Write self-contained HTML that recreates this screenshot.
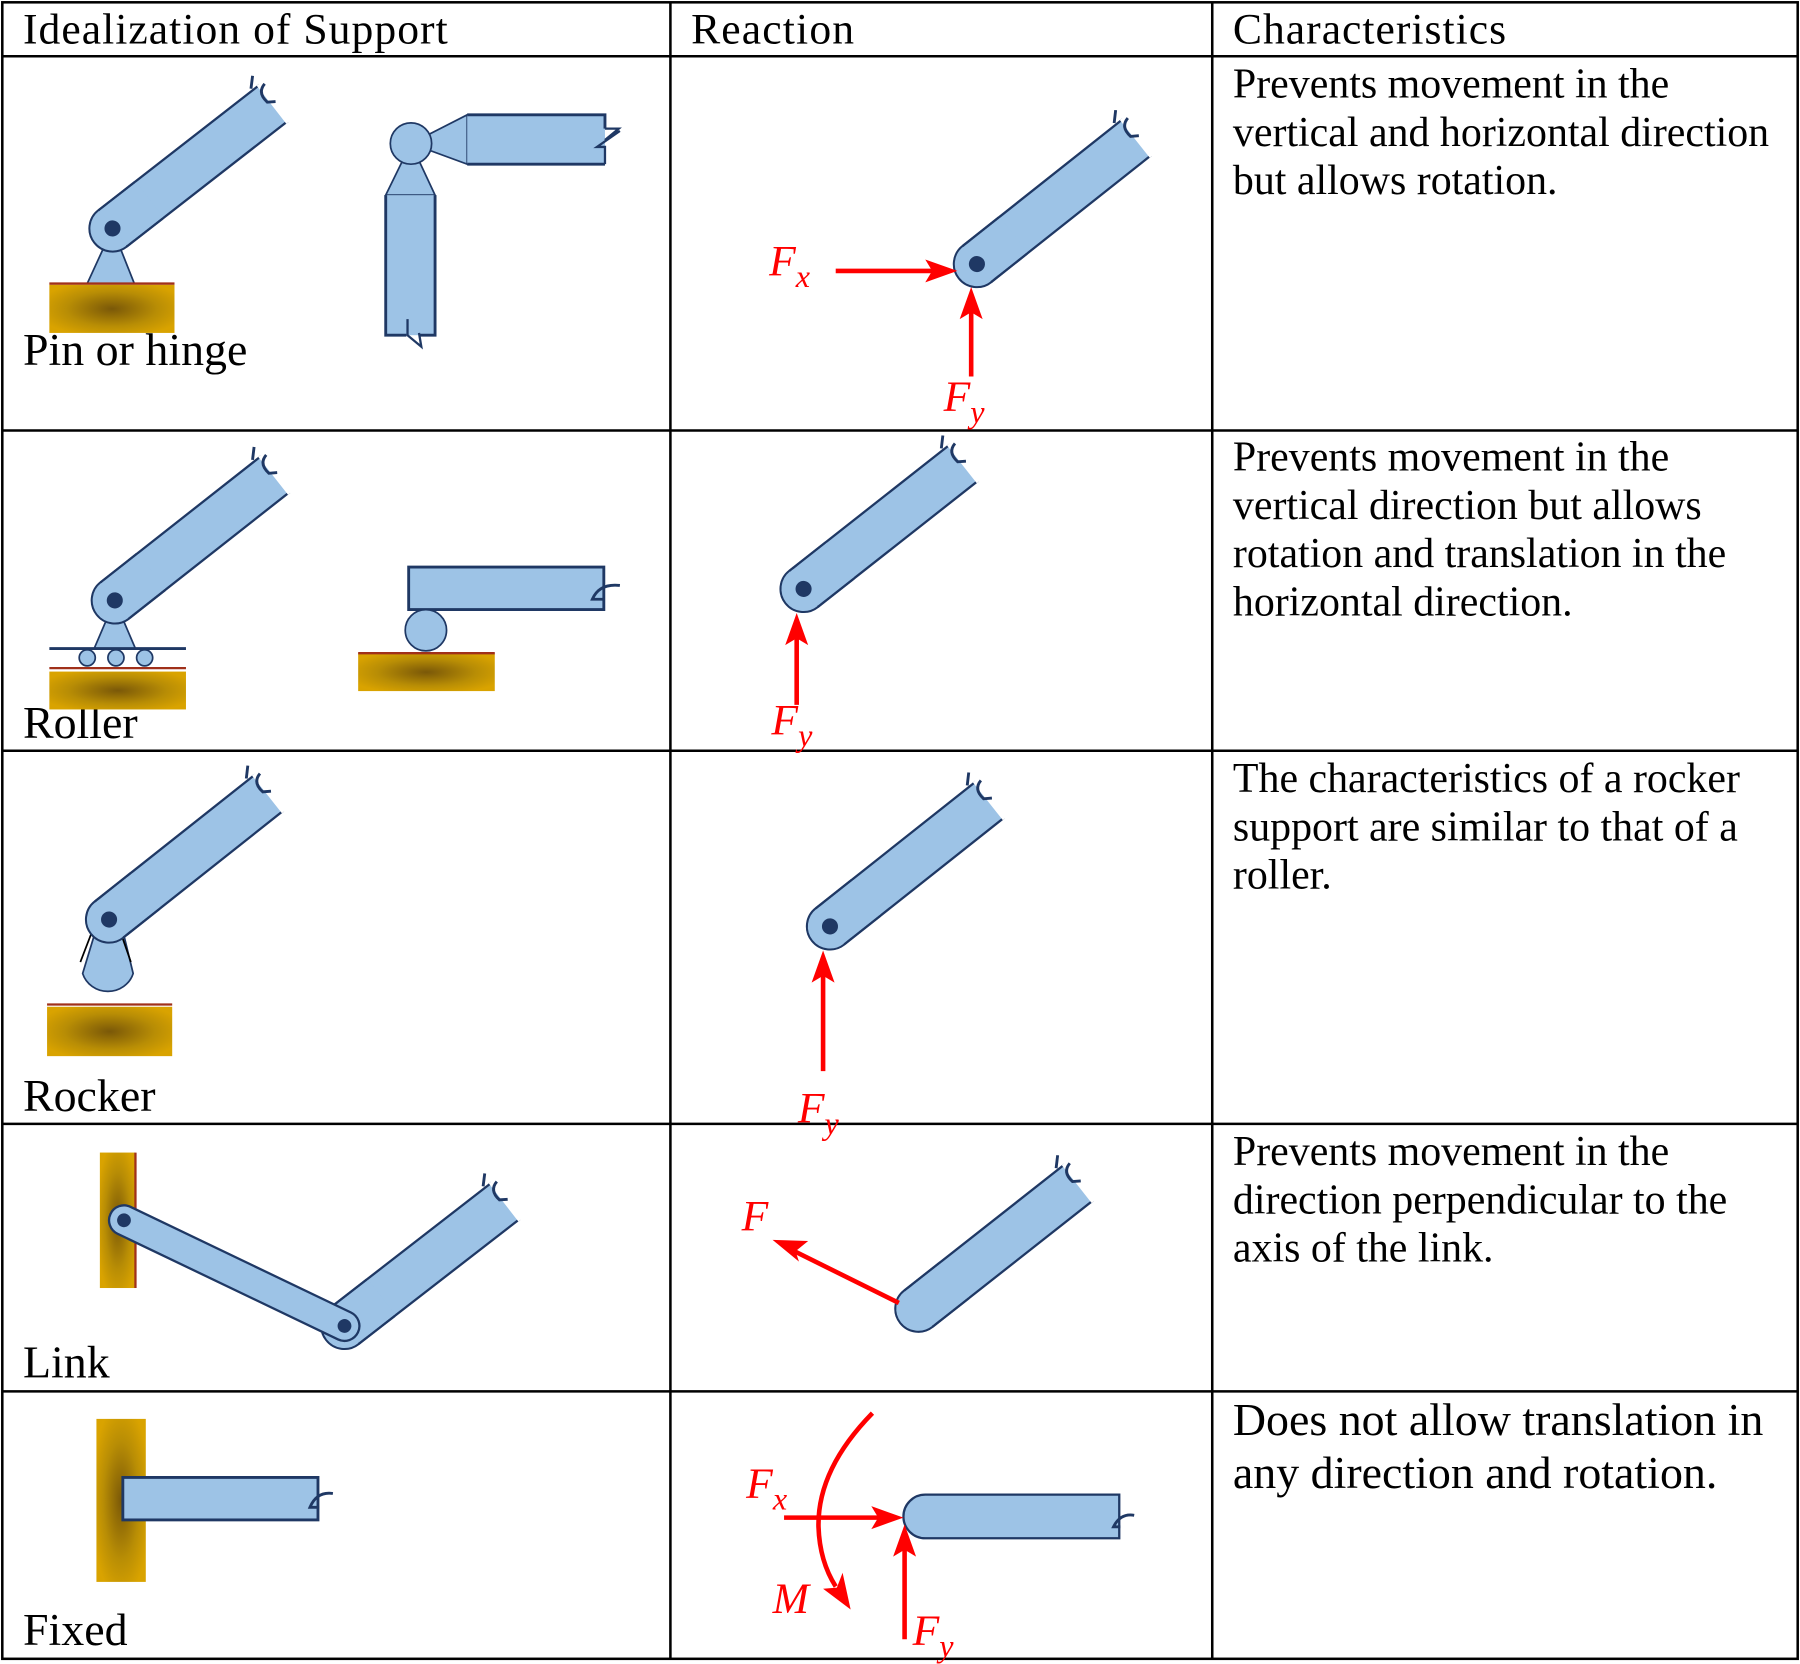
<!DOCTYPE html>
<html><head><meta charset="utf-8"><style>html,body{margin:0;padding:0;background:#fff}svg{display:block}</style></head>
<body>
<svg width="1800" height="1664" viewBox="0 0 1568 1449.5" xmlns="http://www.w3.org/2000/svg" font-family="Liberation Serif, serif">
<defs>
<radialGradient id="g" cx="50%" cy="50%" r="60%"><stop offset="0" stop-color="#7a5808"/><stop offset="0.6" stop-color="#b88d05"/><stop offset="1" stop-color="#d9a300"/></radialGradient>
<g id="beam">
<path d="M0,-20 H177 V20 H0 A20,20 0 0 1 0,-20 Z" fill="#9dc3e6" stroke="#1f3864" stroke-width="2"/>
<path d="M177,-21 V21" stroke="#fff" stroke-width="3"/>
<path d="M170,-22 l8,-8 M182,-18 q-10,2 -8,14 l6,4" fill="none" stroke="#1f3864" stroke-width="2.5"/>
<circle r="20" fill="#9dc3e6" stroke="#1f3864" stroke-width="1.5"/>
<path d="M0,-20 H40 M0,20 H40" stroke="#1f3864" stroke-width="2"/>
<rect x="1" y="-19" width="40" height="38" fill="#9dc3e6"/>
</g>
<g id="pin"><circle r="7" fill="#1f3864"/></g>
</defs>
<g stroke="#000" stroke-width="2.2">
<rect x="2" y="2" width="1564" height="1443" fill="none"/>
<line x1="584" y1="2" x2="584" y2="1445"/><line x1="1056" y1="2" x2="1056" y2="1445"/>
<line x1="2" y1="49" x2="1566" y2="49"/><line x1="2" y1="375" x2="1566" y2="375"/><line x1="2" y1="654" x2="1566" y2="654"/><line x1="2" y1="979" x2="1566" y2="979"/><line x1="2" y1="1212" x2="1566" y2="1212"/>
</g>
<g font-size="38" fill="#000">
<text x="20" y="38" textLength="370">Idealization of Support</text>
<text x="602" y="38" textLength="142">Reaction</text>
<text x="1074" y="38" textLength="238">Characteristics</text>
<text x="20" y="318" font-size="40">Pin or hinge</text>
<text x="20" y="643" font-size="40">Roller</text>
<text x="20" y="968" font-size="40">Rocker</text>
<text x="20" y="1200" font-size="40">Link</text>
<text x="20" y="1433" font-size="40">Fixed</text>
</g>
<g font-size="36.5" fill="#000">
<text x="1074" y="85">Prevents movement in the</text>
<text x="1074" y="127">vertical and horizontal direction</text>
<text x="1074" y="169">but allows rotation.</text>
<text x="1074" y="410">Prevents movement in the</text>
<text x="1074" y="452">vertical direction but allows</text>
<text x="1074" y="494">rotation and translation in the</text>
<text x="1074" y="536">horizontal direction.</text>
<text x="1074" y="690">The characteristics of a rocker</text>
<text x="1074" y="732">support are similar to that of a</text>
<text x="1074" y="774">roller.</text>
<text x="1074" y="1015">Prevents movement in the</text>
<text x="1074" y="1057">direction perpendicular to the</text>
<text x="1074" y="1099">axis of the link.</text>
<text x="1074" y="1250" font-size="40">Does not allow translation in</text>
<text x="1074" y="1296" font-size="40">any direction and rotation.</text>
</g>
<!-- Row1 pin -->
<polygon points="98,199 76,247 117,247" fill="#9dc3e6" stroke="#1f3864" stroke-width="1.5"/>
<rect x="43" y="248" width="109" height="42" fill="url(#g)"/>
<line x1="43" y1="247" x2="152" y2="247" stroke="#a0301a" stroke-width="2"/>
<g transform="translate(98,199) rotate(-37.9)"><use href="#beam"/><use href="#pin"/></g>
<!-- hinge -->
<polygon points="358,125 407,100 407,143" fill="#9dc3e6" stroke="#1f3864" stroke-width="1.5"/>
<rect x="407" y="100" width="120" height="43" fill="#9dc3e6"/>
<path d="M407,100 H527 V112 M527,143 H407" fill="none" stroke="#1f3864" stroke-width="2.5"/>
<path d="M527,112 h12 l-12,10 M540,114 l-20,14 h7 V143" fill="none" stroke="#1f3864" stroke-width="2"/>
<polygon points="358,125 336,170 379,170" fill="#9dc3e6" stroke="#1f3864" stroke-width="1.5"/>
<rect x="336" y="170" width="43" height="122" fill="#9dc3e6"/>
<path d="M336,170 V292 H354 M379,170 V292 H366" fill="none" stroke="#1f3864" stroke-width="2.5"/>
<path d="M355,278 V292 l12,10 l-2,-12" fill="none" stroke="#1f3864" stroke-width="2"/>
<circle cx="358" cy="125" r="18" fill="#9dc3e6" stroke="#1f3864" stroke-width="1.5"/>
<!-- reaction 1 -->
<g transform="translate(851,230) rotate(-38.4)"><use href="#beam"/><use href="#pin"/></g>
<g stroke="#f00" stroke-width="4" fill="#f00">
<line x1="728" y1="236" x2="820" y2="236"/><polygon points="834,236 806,226 812,236 806,246" stroke="none"/>
<line x1="846" y1="328" x2="846" y2="264"/><polygon points="846,250 836,278 846,272 856,278" stroke="none"/>
</g>
<g font-style="italic" fill="#f00" font-size="38">
<text x="670" y="240">F<tspan font-size="28" dy="10">x</tspan></text>
<text x="822" y="358">F<tspan font-size="28" dy="10">y</tspan></text>
<text x="672" y="640">F<tspan font-size="28" dy="10">y</tspan></text>
<text x="695" y="978">F<tspan font-size="28" dy="10">y</tspan></text>
<text x="646" y="1072">F</text>
<text x="650" y="1305">F<tspan font-size="28" dy="10">x</tspan></text>
<text x="795" y="1433">F<tspan font-size="28" dy="10">y</tspan></text>
<text x="673" y="1405">M</text>
</g>
<!-- Row2 roller -->
<polygon points="100,523 82,565 118,565" fill="#9dc3e6" stroke="#1f3864" stroke-width="1.5"/>
<line x1="43" y1="565" x2="162" y2="565" stroke="#1f3864" stroke-width="2.5"/>
<g fill="#9dc3e6" stroke="#1f3864" stroke-width="1.5"><circle cx="76" cy="573" r="7"/><circle cx="101" cy="573" r="7"/><circle cx="126" cy="573" r="7"/></g>
<line x1="43" y1="582" x2="162" y2="582" stroke="#a0301a" stroke-width="2"/>
<rect x="43" y="585" width="119" height="33" fill="url(#g)"/>
<g transform="translate(100,523) rotate(-38.2)"><use href="#beam"/><use href="#pin"/></g>
<rect x="356" y="494" width="170" height="37" fill="#9dc3e6"/>
<path d="M356,494 H526 V531 H356 Z" fill="none" stroke="#1f3864" stroke-width="2.5"/>
<path d="M540,510 q-18,-2 -24,12 h10" fill="none" stroke="#1f3864" stroke-width="2.5"/>
<circle cx="371" cy="549" r="18" fill="#9dc3e6" stroke="#1f3864" stroke-width="1.5"/>
<rect x="312" y="569" width="119" height="33" fill="url(#g)"/>
<line x1="312" y1="569" x2="431" y2="569" stroke="#a0301a" stroke-width="2"/>
<g transform="translate(700,513) rotate(-38.2)"><use href="#beam"/><use href="#pin"/></g>
<g stroke="#f00" stroke-width="4" fill="#f00"><line x1="694" y1="614" x2="694" y2="548"/><polygon points="694,534 684,562 694,556 704,562" stroke="none"/></g>
<!-- Row3 rocker -->
<path d="M82,815 L72,848 A23,22 0 0 0 116,848 L108,815 Z" fill="#9dc3e6" stroke="#1f3864" stroke-width="1.5"/>
<line x1="80" y1="812" x2="70" y2="838" stroke="#000" stroke-width="1.5"/><line x1="105" y1="812" x2="114" y2="838" stroke="#000" stroke-width="1.5"/>
<line x1="41" y1="875" x2="150" y2="875" stroke="#a0301a" stroke-width="2"/>
<rect x="41" y="877" width="109" height="43" fill="url(#g)"/>
<g transform="translate(95,801) rotate(-38.4)"><use href="#beam"/><use href="#pin"/></g>
<g transform="translate(723,807) rotate(-38.4)"><use href="#beam"/><use href="#pin"/></g>
<g stroke="#f00" stroke-width="4" fill="#f00"><line x1="717" y1="933" x2="717" y2="842"/><polygon points="717,828 707,856 717,850 727,856" stroke="none"/></g>
<!-- Row4 link -->
<rect x="87" y="1004" width="31" height="118" fill="url(#g)"/>
<line x1="118" y1="1004" x2="118" y2="1122" stroke="#a0301a" stroke-width="2"/>
<g transform="translate(300,1155) rotate(-37.8)"><use href="#beam"/><use href="#pin"/></g>
<g transform="translate(108,1063) rotate(25.6)">
<path d="M0,-13 H213 A13,13 0 0 1 213,13 H0 A13,13 0 0 1 0,-13 Z" fill="#9dc3e6" stroke="#1f3864" stroke-width="2"/>
<circle r="6" fill="#1f3864"/><circle cx="213" r="6" fill="#1f3864"/></g>
<g transform="translate(800,1140) rotate(-38.2)"><use href="#beam"/></g>
<g stroke="#f00" stroke-width="4" fill="#f00"><line x1="783" y1="1135" x2="686" y2="1087"/><polygon points="673,1080 696,1099 693,1090 704,1081" stroke="none"/></g>
<!-- Row5 fixed -->
<rect x="84" y="1236" width="43" height="142" fill="url(#g)"/>
<rect x="107" y="1287" width="170" height="37" fill="#9dc3e6" stroke="#1f3864" stroke-width="2.5"/>
<path d="M290,1301 q-14,-2 -20,12 h8" fill="none" stroke="#1f3864" stroke-width="2.5"/>
<path d="M806,1302 H975 V1340 H806 A19,19 0 0 1 806,1302 Z" fill="#9dc3e6" stroke="#1f3864" stroke-width="2"/>
<path d="M988,1320 q-12,-2 -18,10 h6" fill="none" stroke="#1f3864" stroke-width="2.5"/>
<g stroke="#f00" stroke-width="4" fill="#f00">
<line x1="683" y1="1322" x2="772" y2="1322"/><polygon points="787,1322 759,1312 765,1322 759,1332" stroke="none"/>
<line x1="788" y1="1428" x2="788" y2="1342"/><polygon points="788,1328 778,1356 788,1350 798,1356" stroke="none"/>
<path d="M760,1231 Q712,1280 713,1330 Q714,1360 728,1382" fill="none"/>
<polygon points="741,1402 717,1384 729,1383 734,1370" stroke="none"/>
</g>
</svg>
</body></html>
